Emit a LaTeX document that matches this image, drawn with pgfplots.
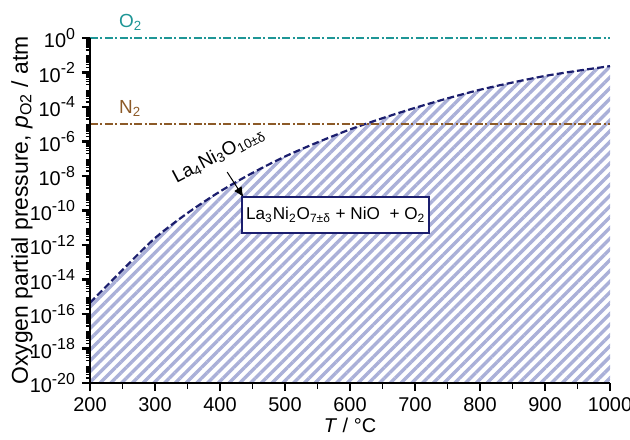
\documentclass[border=0pt]{standalone}
\usepackage{fontspec}
\setmainfont{Liberation Sans}
\usepackage{pgfplots}
\pgfplotsset{compat=1.18}
\usetikzlibrary{patterns.meta, arrows.meta}

\definecolor{navy}{RGB}{27,30,110}
\definecolor{hatch}{RGB}{170,176,216}
\definecolor{o2col}{RGB}{30,150,150}
\definecolor{n2col}{RGB}{140,90,40}

\newcommand{\fs}{\fontsize{10}{12}\selectfont}
\newcommand{\ex}[1]{10\raisebox{0.85ex}{\fontsize{8}{9}\selectfont #1}}

\begin{document}
\begin{tikzpicture}
\begin{axis}[
  scale only axis, width=260bp, height=172.5bp,
  xmin=200, xmax=1000, ymin=1e-20, ymax=1,
  ymode=log, log basis y=10,
  axis lines=left,
  axis line style={-, line width=1.1bp, black},
  xtick align=outside, ytick align=outside,
  major tick length=4bp, minor tick length=3bp,
  tick style={draw=black},
  every major tick/.append style={line width=1.1bp, draw=black},
  every minor tick/.append style={line width=0.9bp, draw=black},
  xtick={200,300,...,1000},
  minor x tick num=1,
  ytick={1e-20,1e-18,1e-16,1e-14,1e-12,1e-10,1e-8,1e-6,1e-4,1e-2,1},
  yticklabels={\ex{-20},\ex{-18},\ex{-16},\ex{-14},\ex{-12},\ex{-10},\ex{-8},\ex{-6},\ex{-4},\ex{-2},\ex{0}},
  minor y tick num=1,
  extra y ticks={
  2e-20,3e-20,4e-20,5e-20,6e-20,7e-20,8e-20,9e-20,
  2e-19,3e-19,4e-19,5e-19,6e-19,7e-19,8e-19,9e-19,
  2e-18,3e-18,4e-18,5e-18,6e-18,7e-18,8e-18,9e-18,
  2e-17,3e-17,4e-17,5e-17,6e-17,7e-17,8e-17,9e-17,
  2e-16,3e-16,4e-16,5e-16,6e-16,7e-16,8e-16,9e-16,
  2e-15,3e-15,4e-15,5e-15,6e-15,7e-15,8e-15,9e-15,
  2e-14,3e-14,4e-14,5e-14,6e-14,7e-14,8e-14,9e-14,
  2e-13,3e-13,4e-13,5e-13,6e-13,7e-13,8e-13,9e-13,
  2e-12,3e-12,4e-12,5e-12,6e-12,7e-12,8e-12,9e-12,
  2e-11,3e-11,4e-11,5e-11,6e-11,7e-11,8e-11,9e-11,
  2e-10,3e-10,4e-10,5e-10,6e-10,7e-10,8e-10,9e-10,
  2e-9,3e-9,4e-9,5e-9,6e-9,7e-9,8e-9,9e-9,
  2e-8,3e-8,4e-8,5e-8,6e-8,7e-8,8e-8,9e-8,
  2e-7,3e-7,4e-7,5e-7,6e-7,7e-7,8e-7,9e-7,
  2e-6,3e-6,4e-6,5e-6,6e-6,7e-6,8e-6,9e-6,
  2e-5,3e-5,4e-5,5e-5,6e-5,7e-5,8e-5,9e-5,
  2e-4,3e-4,4e-4,5e-4,6e-4,7e-4,8e-4,9e-4,
  2e-3,3e-3,4e-3,5e-3,6e-3,7e-3,8e-3,9e-3,
  2e-2,3e-2,4e-2,5e-2,6e-2,7e-2,8e-2,9e-2,
  2e-1,3e-1,4e-1,5e-1,6e-1,7e-1,8e-1,9e-1},
  extra y tick labels={},
  extra y tick style={major tick length=2bp, every major tick/.append style={line width=0.7bp, draw=black}},
  ticklabel style={font=\fs},
  xticklabel style={/pgf/number format/1000 sep={}, /pgf/number format/assume math mode=true},
  every axis x label/.style={at={(rel axis cs:0.5,-0.122)}, anchor=center, font=\fs},
  every axis y label/.style={at={(rel axis cs:-0.131,0.5)}, anchor=center, rotate=90, font=\fontsize{11.5}{13}\selectfont},
  xlabel={\textit{T} / °C},
  ylabel={Oxygen partial pressure, \textit{p}\textsubscript{O2} / atm},
  clip=false,
  axis on top,
]
\coordinate (SW) at (rel axis cs:0,0);
% hatched region below the curve
\addplot[draw=none, pattern={Lines[angle=45,distance=3.8bp,line width=1.7bp]}, pattern color=hatch] coordinates {
(200,4.47e-16) (250,3.55e-14) (300,2.51e-12) (350,7.08e-11) (400,1.26e-9)
(450,1.51e-8) (500,1.35e-7) (550,8.91e-7) (600,5.0e-6) (650,2.24e-5)
(700,8.91e-5) (750,3.16e-4) (800,1.0e-3) (850,2.63e-3) (900,6.31e-3)
(950,1.26e-2) (1000,2.34e-2) (1000,1e-20) (200,1e-20)} -- cycle;
% boundary curve
\addplot[navy, line width=1.1bp, dash pattern=on 3.5bp off 1.6bp, smooth] coordinates {
(200,4.47e-16) (250,3.55e-14) (300,2.51e-12) (350,7.08e-11) (400,1.26e-9)
(450,1.51e-8) (500,1.35e-7) (550,8.91e-7) (600,5.0e-6) (650,2.24e-5)
(700,8.91e-5) (750,3.16e-4) (800,1.0e-3) (850,2.63e-3) (900,6.31e-3)
(950,1.26e-2) (1000,2.34e-2)};
% O2 and N2 lines
\addplot[o2col, line width=0.8bp, dash pattern=on 4bp off 1.2bp on 1bp off 1.2bp] coordinates {(200,1) (1000,1)};
\addplot[n2col, line width=0.8bp, dash pattern=on 4bp off 1.2bp on 1bp off 1.2bp] coordinates {(200,1e-5) (1000,1e-5)};
\node[o2col, font=\fontsize{9.5}{11}\selectfont, anchor=base west, yshift=5.5bp] at (axis cs:234,1) {O\textsubscript{2}};
\node[n2col, font=\fontsize{9.5}{11}\selectfont, anchor=base west, yshift=5.5bp] at (axis cs:234,1e-5) {N\textsubscript{2}};
% annotations
\node[font=\fontsize{9.5}{11}\selectfont, rotate=28] at (axis cs:398,1.6e-7) {La\textsubscript{4}Ni\textsubscript{3}O\textsubscript{10±δ}};
\draw[-{Latex[length=5bp,width=4.5bp]}, line width=0.5bp] (axis cs:411,1.7e-8) -- (axis cs:436,6e-10);
\node[draw=navy, line width=0.8bp, fill=white, font=\fontsize{8.6}{10}\selectfont, minimum width=91bp, minimum height=18bp, inner sep=2bp] at (axis cs:578,5.5e-11) {La\textsubscript{3}Ni\textsubscript{2}O\textsubscript{7±δ} + NiO~ + O\textsubscript{2}};
\end{axis}
\pgfresetboundingbox
\path (SW) ++(-45bp,-28.5bp) rectangle ++(315bp,220bp);
\end{tikzpicture}
\end{document}
